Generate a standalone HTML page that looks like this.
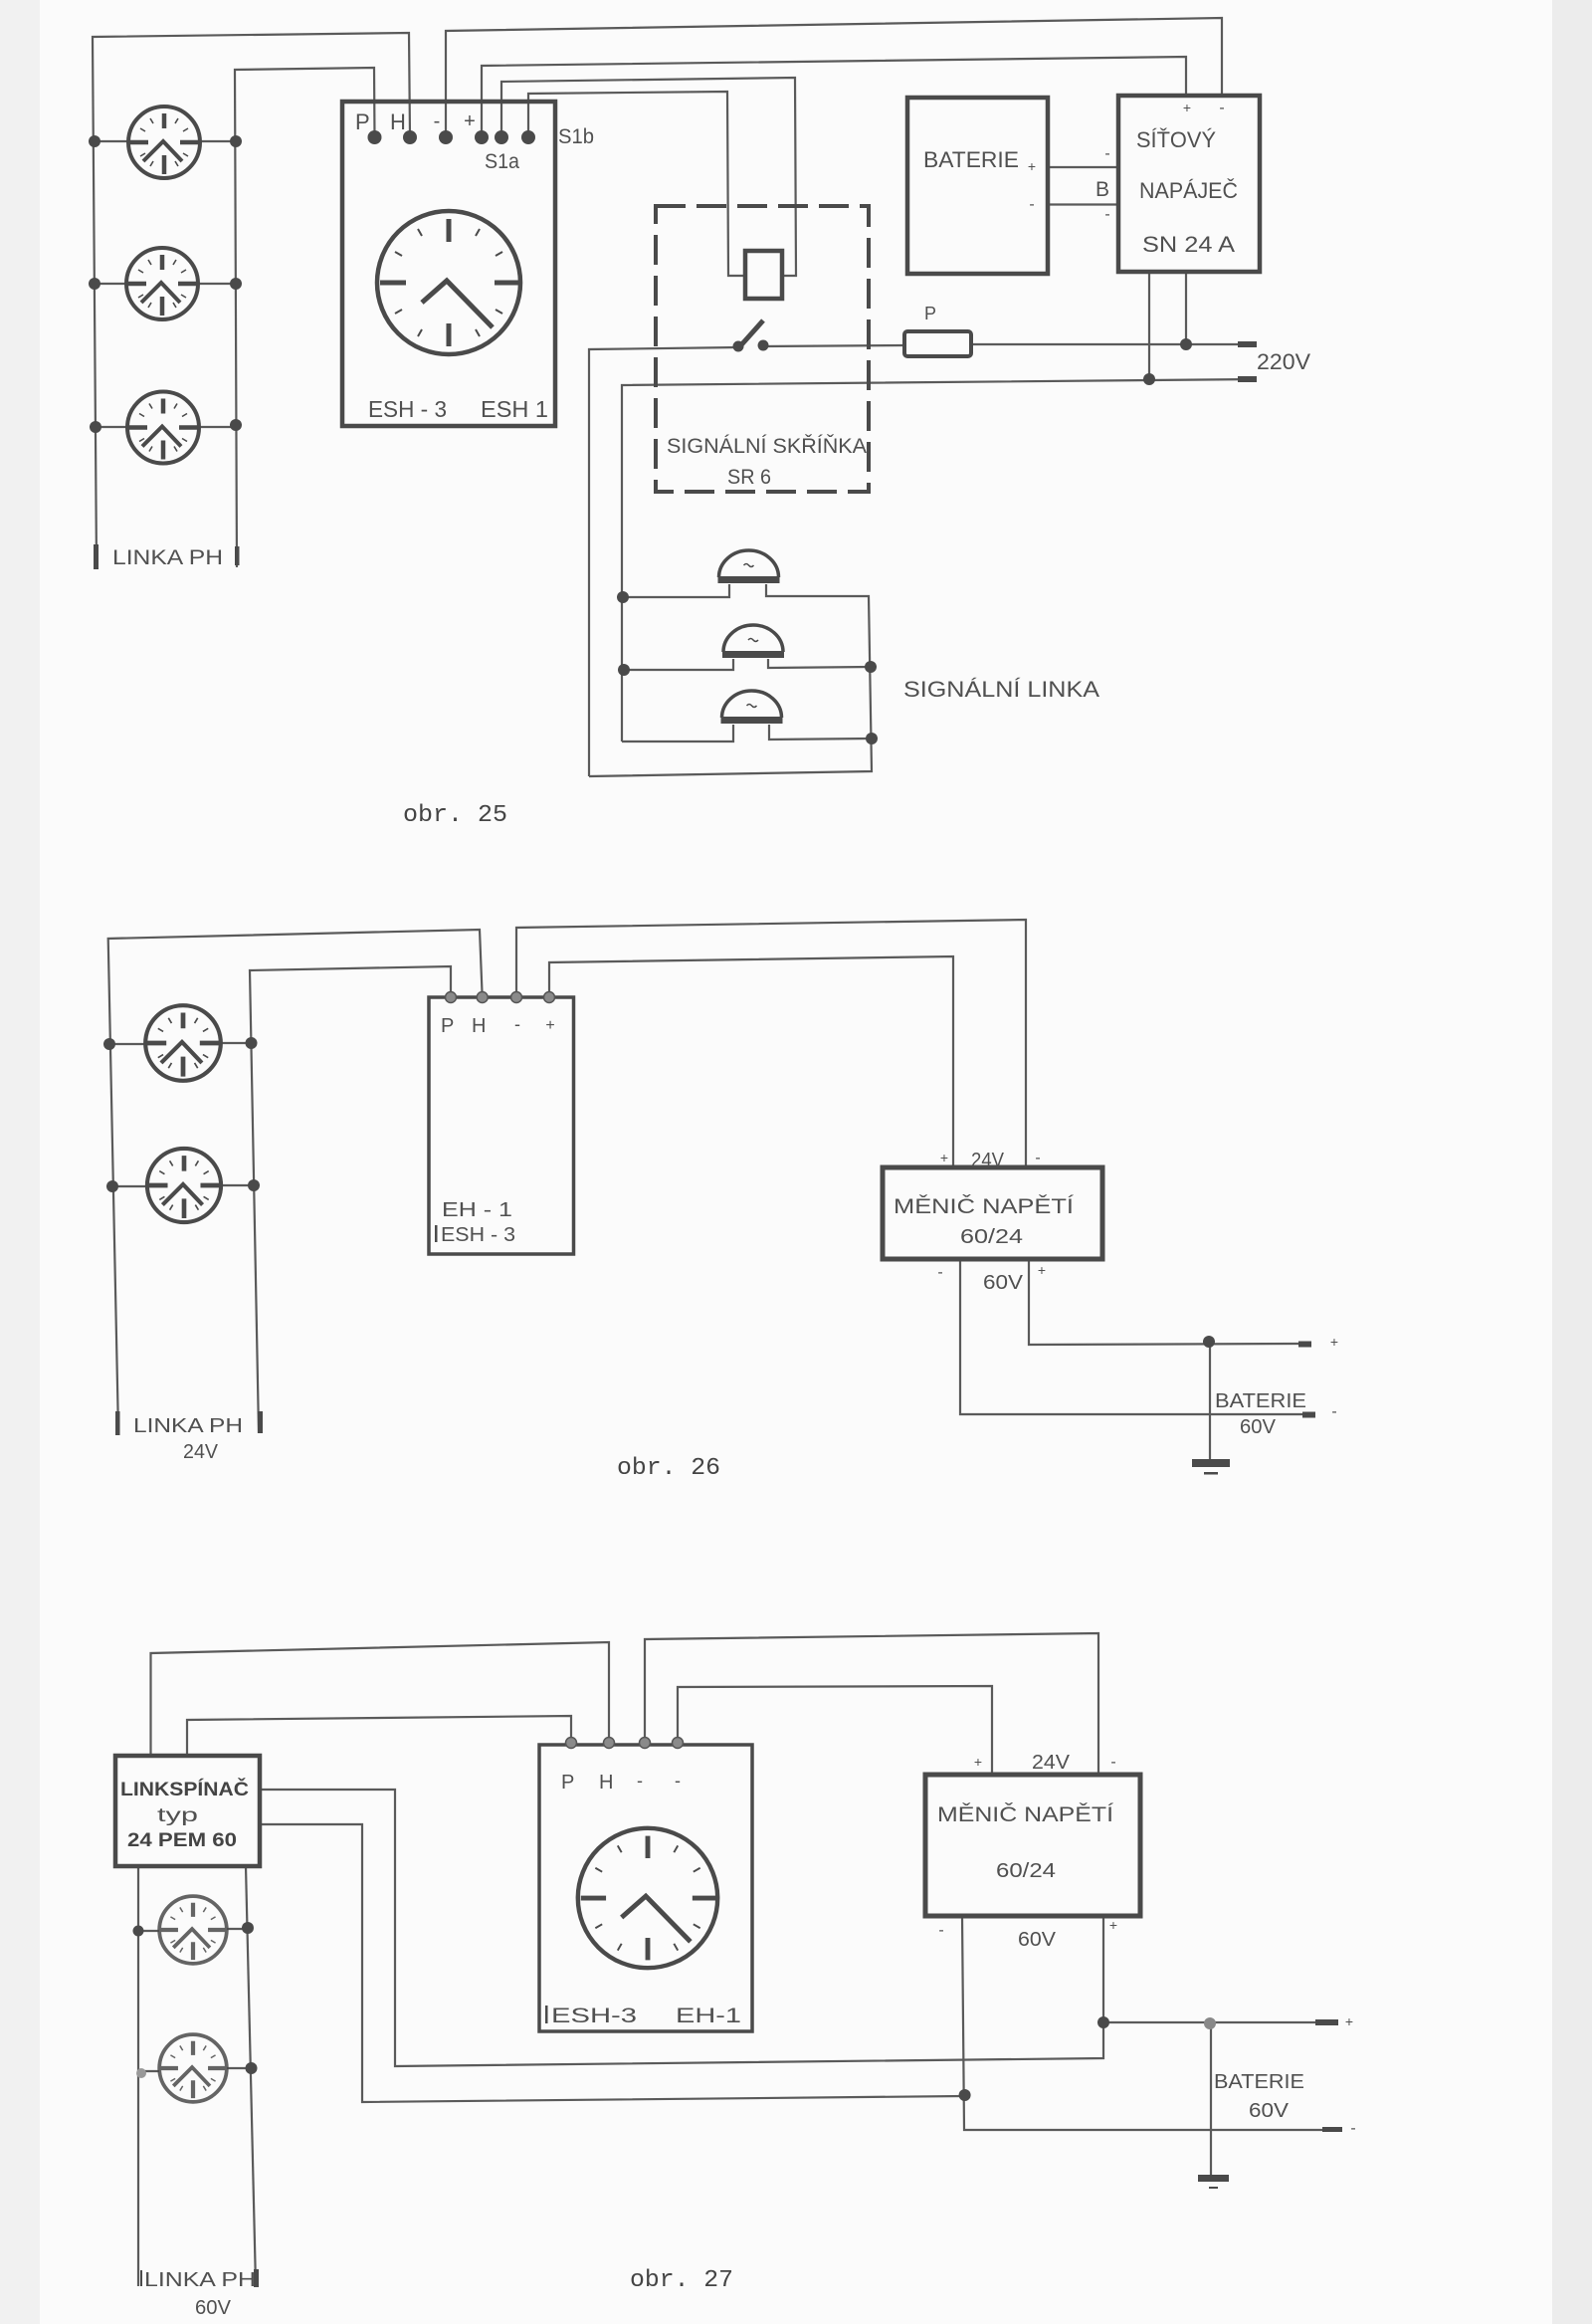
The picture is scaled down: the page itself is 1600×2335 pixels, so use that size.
<!DOCTYPE html>
<html><head><meta charset="utf-8"><style>
html,body{margin:0;padding:0;background:#fbfbfb;}
svg{display:block;}
</style></head><body>
<svg width="1600" height="2335" viewBox="0 0 1600 2335" xmlns="http://www.w3.org/2000/svg">
<rect width="1600" height="2335" fill="#fbfbfb"/>
<rect x="0" y="0" width="40" height="2335" fill="#f1f1f1"/>
<rect x="1560" y="0" width="40" height="2335" fill="#ececec"/>
<defs>
<g id="lamp" fill="none" stroke="#4a4a4a">
 <circle r="36" stroke-width="4"/>
 <path d="M0,-29V-14M0,13V32M-36,0H-16M16,0H35" stroke-width="4.5"/>
 <path d="M-21,19L-1,-1L18,19" stroke-width="4"/>
 <path d="M11,-19L14,-24M-11,-19L-14,-24M19,-11L24,-14M-19,-11L-24,-14M19,11L24,14M-19,11L-24,14M11,19L14,24M-11,19L-14,24" stroke-width="1.6"/>
</g>
<g id="clock" fill="none" stroke="#4a4a4a">
 <circle r="72" stroke-width="4.5"/>
 <path d="M0,-64V-41M0,41V64M-69,0H-43M46,0H70" stroke-width="5"/>
 <path d="M27,-47L31,-54M-27,-47L-31,-54M47,-27L54,-31M-47,-27L-54,-31M47,27L54,31M-47,27L-54,31M27,47L31,54M-27,47L-31,54" stroke-width="2"/>
 <path d="M-27,20L-2,-2L44,45" stroke-width="5"/>
</g>
<g id="bell" stroke="#4a4a4a">
 <path d="M-30,-7A30,27 0 0 1 30,-7" fill="none" stroke-width="3.5"/>
 <rect x="-31" y="-8" width="62" height="7" fill="#4a4a4a" stroke="none"/>
 <path d="M-5,-19q2.5,-3 5,0t5,0" fill="none" stroke-width="1.5"/>
</g>
</defs>

<!-- ============ FIG 25 ============ -->
<g fill="none" stroke="#5a5a5a" stroke-width="2.2">
 <path d="M97,570L93,37L411,33L412,138"/>
 <path d="M238,570L236,70L376,68L376.5,138"/>
 <path d="M448,138L448,31L1228,18L1228,96"/>
 <path d="M484,138L484,66L1192,57L1192,96"/>
 <path d="M504,138L504,82L799,78L800,277L786,277"/>
 <path d="M531,138L531,94L731,92L732,277L749,277"/>
 <path d="M95,142H130M200,142H237"/>
 <path d="M95,285H127M199,285H237"/>
 <path d="M96,429H128M200,429H237"/>
 <path d="M592,780L592,351L742,349"/>
 <path d="M767,348L909,347M976,346L1263,346"/>
 <path d="M1192,273L1192,346"/>
 <path d="M1155,273L1155,381"/>
 <path d="M625,745L625,387L1263,381"/>
 <path d="M626,600L733,600L733,587M770,587L770,599L873,599L876,775L592,780"/>
 <path d="M627,673L737,673L737,662M772,662L772,671L875,670"/>
 <path d="M625,745L737,745L737,728M773,728L773,743L876,742"/>
 <path d="M1053,168H1124M1053,205.5H1124"/>
</g>
<use href="#lamp" x="165" y="143"/>
<use href="#lamp" x="163" y="285"/>
<use href="#lamp" x="164" y="429.5"/>
<use href="#clock" x="451" y="284"/>
<use href="#bell" x="752.5" y="587"/>
<use href="#bell" x="757" y="662"/>
<use href="#bell" x="755.5" y="728"/>
<g fill="none" stroke="#4a4a4a" stroke-width="4.5">
 <rect x="344" y="102" width="214" height="326"/>
 <rect x="912" y="98" width="141" height="177"/>
 <rect x="1124" y="96" width="142" height="177"/>
 <rect x="749" y="252" width="37" height="48"/>
 <rect x="909" y="333" width="67" height="25" rx="3" stroke-width="4"/>
 <rect x="659" y="207" width="214" height="287" stroke-width="4" stroke-dasharray="30 11"/>
 <path d="M742,350L767,322" stroke-width="5"/>
</g>
<g fill="#4a4a4a">
 <circle cx="742" cy="348" r="5.5"/><circle cx="767" cy="347" r="5.5"/>
 <circle cx="95" cy="142" r="6"/><circle cx="237" cy="142" r="6"/>
 <circle cx="95" cy="285" r="6"/><circle cx="237" cy="285" r="6"/>
 <circle cx="96" cy="429" r="6"/><circle cx="237" cy="427" r="6"/>
 <circle cx="376.5" cy="138" r="7"/><circle cx="412" cy="138" r="7"/>
 <circle cx="448" cy="138" r="7"/><circle cx="484" cy="138" r="7"/>
 <circle cx="504" cy="138" r="7"/><circle cx="531" cy="138" r="7"/>
 <circle cx="626" cy="600" r="6"/><circle cx="627" cy="673" r="6"/>
 <circle cx="875" cy="670" r="6"/><circle cx="876" cy="742" r="6"/>
 <circle cx="1155" cy="381" r="6"/><circle cx="1192" cy="346" r="6"/>
 <rect x="1244" y="343" width="19" height="6"/>
 <rect x="1244" y="378" width="19" height="6"/>
 <rect x="94" y="547" width="5" height="25"/>
 <rect x="236" y="549" width="4.5" height="19"/>
</g>

<!-- ============ FIG 26 ============ -->
<g fill="none" stroke="#5a5a5a" stroke-width="2.2">
 <path d="M119,1440L108.7,943L482,934L484.7,1002"/>
 <path d="M260,1440L251,975L453,971L453,1002"/>
 <path d="M519,1002L519,932L1031,924L1031,1175"/>
 <path d="M552,1002L552,967L958,961L958,1175"/>
 <path d="M965,1265L965,1421L1309,1421"/>
 <path d="M1034,1265L1034,1351L1305,1350"/>
 <path d="M1216,1348L1216,1468"/>
 <path d="M110,1049H146M222,1048H252"/>
 <path d="M113,1192H148M222,1191H255"/>
</g>
<use href="#lamp" transform="translate(184,1048) scale(1.05)"/>
<use href="#lamp" transform="translate(185,1191) scale(1.03)"/>
<g fill="none" stroke="#4a4a4a">
 <rect x="431" y="1002" width="145.5" height="258" stroke-width="3.5"/>
 <rect x="887" y="1173" width="221" height="92" stroke-width="5"/>
</g>
<g fill="#4a4a4a">
 <circle cx="110" cy="1049" r="6"/><circle cx="252.5" cy="1048" r="6"/>
 <circle cx="113" cy="1192" r="6"/><circle cx="255" cy="1191" r="6"/>
 <circle cx="1215" cy="1348" r="6"/>
 <rect x="1305" y="1347.5" width="13" height="6"/>
 <rect x="1309" y="1418.5" width="13" height="6"/>
 <rect x="1198" y="1466" width="38" height="8"/>
 <rect x="1210" y="1479" width="14" height="2.5"/>
 <rect x="116" y="1418" width="4.5" height="24"/>
 <rect x="259" y="1418" width="5" height="22"/>
 <rect x="437" y="1231" width="2.5" height="17"/>
</g>
<g fill="#8a8a8a" stroke="#555" stroke-width="1.5">
 <circle cx="453" cy="1002" r="5.5"/><circle cx="484.7" cy="1002" r="5.5"/>
 <circle cx="519" cy="1002" r="5.5"/><circle cx="552" cy="1002" r="5.5"/>
</g>

<!-- ============ FIG 27 ============ -->
<g fill="none" stroke="#5a5a5a" stroke-width="2.2">
 <path d="M151.5,1764L151.5,1661L612,1650L612,1751"/>
 <path d="M188,1764L188,1728L574,1724L574,1751"/>
 <path d="M648,1751L648,1647L1104,1641L1104,1783"/>
 <path d="M681,1751L681,1695L997,1694L997,1783"/>
 <path d="M261,1798L397,1798L397,2076L1109,2068L1109,1925"/>
 <path d="M1109,2032L1322,2032"/>
 <path d="M261,1833L364,1833L364,2112L969,2106"/>
 <path d="M967,1925L969,2140L1329,2140"/>
 <path d="M1217,2033L1217,2186"/>
 <path d="M139,1875L139,2297"/>
 <path d="M247,1875L257,2297"/>
 <path d="M139,1940H160M228,1938H249"/>
 <path d="M142,2081H160M228,2078H252"/>
</g>
<use href="#lamp" transform="translate(194,1939) scale(0.94)" opacity="0.85"/>
<use href="#lamp" transform="translate(194,2078) scale(0.94)" opacity="0.85"/>
<use href="#clock" transform="translate(651,1907) scale(0.975)"/>
<g fill="none" stroke="#4a4a4a">
 <rect x="116" y="1764" width="145" height="111" stroke-width="4.5"/>
 <rect x="542" y="1753" width="214" height="288" stroke-width="3.5"/>
 <rect x="930" y="1783" width="216" height="142" stroke-width="5"/>
</g>
<g fill="#4a4a4a">
 <circle cx="139" cy="1940" r="5.5"/><circle cx="249" cy="1937" r="6"/>
 <circle cx="142" cy="2083" r="5" fill="#999"/><circle cx="252.5" cy="2078" r="6"/>
 <circle cx="1109" cy="2032" r="6"/><circle cx="969.6" cy="2105" r="6"/>
 <circle cx="1216" cy="2033" r="6" fill="#888"/>
 <rect x="1322" y="2029" width="23" height="6"/>
 <rect x="1329" y="2137" width="20" height="5"/>
 <rect x="1204" y="2185" width="31" height="7"/>
 <rect x="1215" y="2197" width="9" height="2"/>
 <rect x="255" y="2280" width="5" height="18"/>
 <rect x="141" y="2281" width="2" height="16"/>
 <rect x="548" y="2015" width="2.5" height="18"/>
</g>
<g fill="#8a8a8a" stroke="#555" stroke-width="1.5">
 <circle cx="574" cy="1751" r="5.5"/><circle cx="612" cy="1751" r="5.5"/>
 <circle cx="648" cy="1751" r="5.5"/><circle cx="681" cy="1751" r="5.5"/>
</g>

<!-- ============ TEXT ============ -->
<g font-family="'Liberation Sans', sans-serif" fill="#505050" lengthAdjust="spacingAndGlyphs">
 <!-- fig 25 -->
 <text x="357" y="130" font-size="22">P</text>
 <text x="392" y="130" font-size="22">H</text>
 <text x="439" y="128" font-size="20" text-anchor="middle">-</text>
 <text x="472" y="128" font-size="20" text-anchor="middle">+</text>
 <text x="561" y="144" font-size="21" textLength="36" lengthAdjust="spacingAndGlyphs">S1b</text>
 <text x="487" y="169" font-size="21" textLength="35" lengthAdjust="spacingAndGlyphs">S1a</text>
 <text x="370" y="419" font-size="23" textLength="79" lengthAdjust="spacingAndGlyphs">ESH - 3</text>
 <text x="483" y="419" font-size="23" textLength="68" lengthAdjust="spacingAndGlyphs">ESH 1</text>
 <text x="113" y="567" font-size="21" textLength="111" lengthAdjust="spacingAndGlyphs">LINKA PH</text>
 <text x="928" y="168" font-size="22" textLength="96" lengthAdjust="spacingAndGlyphs">BATERIE</text>
 <text x="1037" y="172" font-size="14" text-anchor="middle">+</text>
 <text x="1037" y="210" font-size="16" text-anchor="middle">-</text>
 <text x="1113" y="159" font-size="16" text-anchor="middle">-</text>
 <text x="1101" y="197" font-size="21">B</text>
 <text x="1113" y="220" font-size="16" text-anchor="middle">-</text>
 <text x="1193" y="113" font-size="14" text-anchor="middle">+</text>
 <text x="1228" y="113" font-size="16" text-anchor="middle">-</text>
 <text x="1142" y="148" font-size="22" textLength="80" lengthAdjust="spacingAndGlyphs">SÍŤOVÝ</text>
 <text x="1145" y="199" font-size="22" textLength="99" lengthAdjust="spacingAndGlyphs">NAPÁJEČ</text>
 <text x="1148" y="253" font-size="22" textLength="93" lengthAdjust="spacingAndGlyphs">SN 24  A</text>
 <text x="929" y="321" font-size="18">P</text>
 <text x="1263" y="371" font-size="22" textLength="54" lengthAdjust="spacingAndGlyphs">220V</text>
 <text x="670" y="455" font-size="21" textLength="201" lengthAdjust="spacingAndGlyphs">SIGNÁLNÍ SKŘÍŇKA</text>
 <text x="731" y="486" font-size="21" textLength="44" lengthAdjust="spacingAndGlyphs">SR 6</text>
 <text x="908" y="700" font-size="22" textLength="197" lengthAdjust="spacingAndGlyphs">SIGNÁLNÍ  LINKA</text>
 <!-- fig 26 -->
 <text x="443" y="1037" font-size="20">P</text>
 <text x="474" y="1037" font-size="20">H</text>
 <text x="520" y="1035" font-size="18" text-anchor="middle">-</text>
 <text x="553" y="1035" font-size="16" text-anchor="middle">+</text>
 <text x="444" y="1222" font-size="20" textLength="71" lengthAdjust="spacingAndGlyphs">EH - 1</text>
 <text x="443" y="1247" font-size="20" textLength="75" lengthAdjust="spacingAndGlyphs">ESH - 3</text>
 <text x="134" y="1439" font-size="20" textLength="110" lengthAdjust="spacingAndGlyphs">LINKA PH</text>
 <text x="184" y="1465" font-size="20" textLength="35" lengthAdjust="spacingAndGlyphs">24V</text>
 <text x="898" y="1219" font-size="21" textLength="181" lengthAdjust="spacingAndGlyphs">MĚNIČ  NAPĚTÍ</text>
 <text x="965" y="1249" font-size="20" textLength="63" lengthAdjust="spacingAndGlyphs">60/24</text>
 <text x="949" y="1168" font-size="14" text-anchor="middle">+</text>
 <text x="976" y="1172" font-size="20" textLength="33" lengthAdjust="spacingAndGlyphs">24V</text>
 <text x="1043" y="1168" font-size="16" text-anchor="middle">-</text>
 <text x="945" y="1283" font-size="16" text-anchor="middle">-</text>
 <text x="988" y="1295" font-size="20" textLength="40" lengthAdjust="spacingAndGlyphs">60V</text>
 <text x="1047" y="1281" font-size="14" text-anchor="middle">+</text>
 <text x="1221" y="1414" font-size="20" textLength="92" lengthAdjust="spacingAndGlyphs">BATERIE</text>
 <text x="1246" y="1440" font-size="20" textLength="36" lengthAdjust="spacingAndGlyphs">60V</text>
 <text x="1341" y="1353" font-size="14" text-anchor="middle">+</text>
 <text x="1341" y="1423" font-size="16" text-anchor="middle">-</text>
 <!-- fig 27 -->
 <text x="121" y="1804" font-size="19" font-weight="bold" fill="#444" textLength="129" lengthAdjust="spacingAndGlyphs">LINKSPÍNAČ</text>
 <text x="158" y="1830" font-size="19" textLength="41" lengthAdjust="spacingAndGlyphs">typ</text>
 <text x="128" y="1855" font-size="19" font-weight="bold" fill="#444" textLength="110" lengthAdjust="spacingAndGlyphs">24 PEM 60</text>
 <text x="564" y="1797" font-size="20">P</text>
 <text x="602" y="1797" font-size="20">H</text>
 <text x="643" y="1795" font-size="18" text-anchor="middle">-</text>
 <text x="681" y="1795" font-size="18" text-anchor="middle">-</text>
 <text x="554" y="2032" font-size="21" textLength="86" lengthAdjust="spacingAndGlyphs">ESH-3</text>
 <text x="679" y="2032" font-size="21" textLength="66" lengthAdjust="spacingAndGlyphs">EH-1</text>
 <text x="145" y="2297" font-size="20" textLength="112" lengthAdjust="spacingAndGlyphs">LINKA PH</text>
 <text x="196" y="2325" font-size="20" textLength="36" lengthAdjust="spacingAndGlyphs">60V</text>
 <text x="942" y="1830" font-size="21" textLength="177" lengthAdjust="spacingAndGlyphs">MĚNIČ NAPĚTÍ</text>
 <text x="1001" y="1886" font-size="20" textLength="60" lengthAdjust="spacingAndGlyphs">60/24</text>
 <text x="983" y="1775" font-size="14" text-anchor="middle">+</text>
 <text x="1037" y="1777" font-size="20" textLength="38" lengthAdjust="spacingAndGlyphs">24V</text>
 <text x="1119" y="1775" font-size="16" text-anchor="middle">-</text>
 <text x="946" y="1944" font-size="16" text-anchor="middle">-</text>
 <text x="1023" y="1955" font-size="20" textLength="38" lengthAdjust="spacingAndGlyphs">60V</text>
 <text x="1119" y="1939" font-size="14" text-anchor="middle">+</text>
 <text x="1220" y="2098" font-size="20" textLength="91" lengthAdjust="spacingAndGlyphs">BATERIE</text>
 <text x="1255" y="2127" font-size="20" textLength="40" lengthAdjust="spacingAndGlyphs">60V</text>
 <text x="1356" y="2036" font-size="14" text-anchor="middle">+</text>
 <text x="1360" y="2143" font-size="16" text-anchor="middle">-</text>
</g>
<g font-family="'Liberation Mono', monospace" fill="#444" font-size="24">
 <text x="405" y="825" textLength="105" lengthAdjust="spacingAndGlyphs">obr. 25</text>
 <text x="620" y="1481" textLength="104" lengthAdjust="spacingAndGlyphs">obr. 26</text>
 <text x="633" y="2297" textLength="104" lengthAdjust="spacingAndGlyphs">obr. 27</text>
</g>
</svg>
</body></html>
